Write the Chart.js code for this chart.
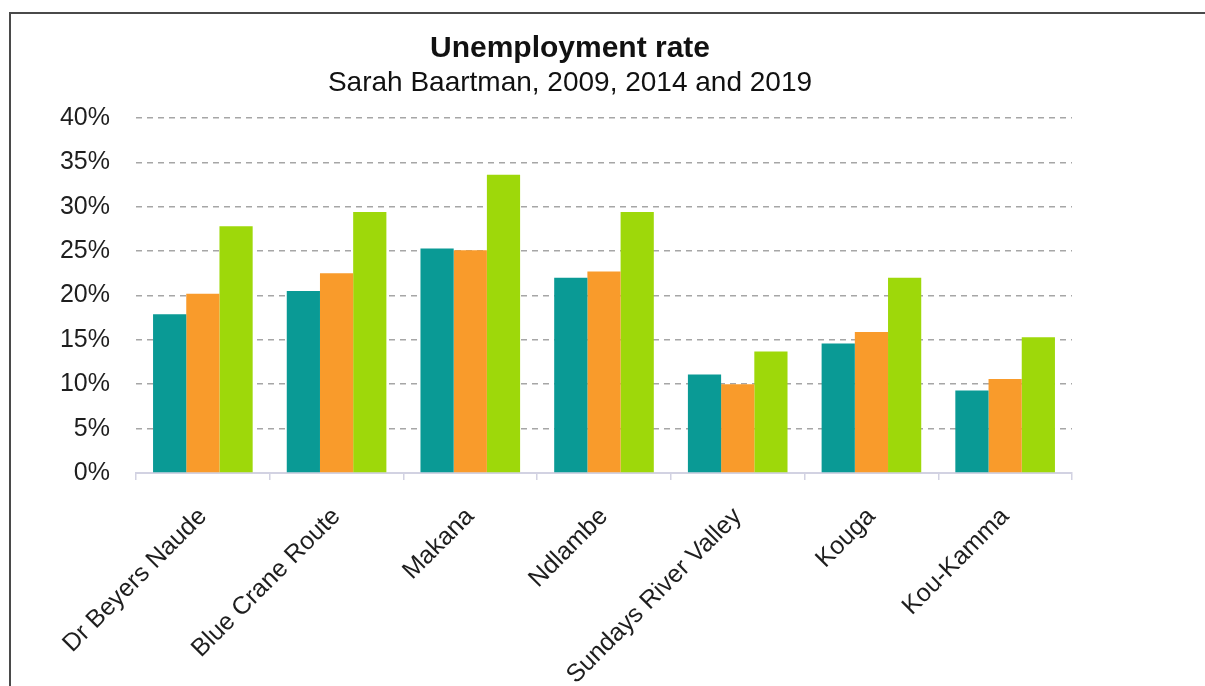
<!DOCTYPE html>
<html>
<head>
<meta charset="utf-8">
<title>Unemployment rate</title>
<script src="https://cdn.jsdelivr.net/npm/chart.js@4"></script>
<style>
  html, body { margin: 0; padding: 0; background: #fff; overflow: hidden; }
  .wrap  { position: absolute; left: 0; top: 0; width: 1205px; height: 686px; }
  .frame { position: absolute; left: 9px; top: 12px; right: 0; bottom: 0;
           border-top: 2px solid #4a4a4a; border-left: 2px solid #4a4a4a; pointer-events: none; }
</style>
</head>
<body>
<div class="wrap"><canvas id="chart"></canvas></div>
<div class="frame"></div>
<script>
// ── Municipalities and unemployment rate (%) per year
const municipalities = ['Dr Beyers Naude', 'Blue Crane Route', 'Makana', 'Ndlambe',
                        'Sundays River Valley', 'Kouga', 'Kou-Kamma'];
const rate2009 = [17.9, 20.5, 25.3, 22.0, 11.1, 14.6,  9.3];
const rate2014 = [20.2, 22.5, 25.1, 22.7, 10.0, 15.9, 10.6];
const rate2019 = [27.8, 29.4, 33.6, 29.4, 13.7, 22.0, 15.3];

const yMin = 0, yMax = 40, yStep = 5;

const titleText    = 'Unemployment rate';
const subtitleText = 'Sarah Baartman, 2009, 2014 and 2019';

const FONT = "'Liberation Sans', Arial, Helvetica, sans-serif";
const TEXT = '#1e1e1e';
const AXIS = '#d2d2e2';

// Heading sits a little left of the plot centre, so it is drawn by hand
const heading = {
  id: 'heading',
  afterDraw(chart) {
    const ctx = chart.ctx;
    ctx.save();
    ctx.textAlign = 'center';
    ctx.textBaseline = 'alphabetic';
    ctx.fillStyle = '#111';
    ctx.font = `bold 30px ${FONT}`;
    ctx.fillText(titleText, 570, 57);
    ctx.font = `28px ${FONT}`;
    ctx.fillText(subtitleText, 570, 91);
    ctx.restore();
  }
};

function series(label, data, color) {
  return { label, data, backgroundColor: color, borderWidth: 0,
           categoryPercentage: 0.745, barPercentage: 1.0 };
}

new Chart(document.getElementById('chart'), {
  type: 'bar',
  data: {
    labels: municipalities,
    datasets: [
      series('2009', rate2009, '#0a9a95'),
      series('2014', rate2014, '#f99b2b'),
      series('2019', rate2019, '#9ed80a')
    ]
  },
  plugins: [heading],
  options: {
    responsive: true,
    maintainAspectRatio: false,
    animation: false,
    layout: { padding: { left: 0, right: 133, top: 118, bottom: 0 } },
    plugins: {
      legend:  { display: false },
      tooltip: { enabled: false }
    },
    scales: {
      x: {
        offset: true,
        grid: { display: true, drawOnChartArea: false, drawTicks: true, tickLength: 7,
                color: AXIS, lineWidth: 1.5, offset: true },
        border: { display: true, color: AXIS, width: 2 },
        ticks: { autoSkip: false, minRotation: 45, maxRotation: 45, padding: 22,
                 color: TEXT, font: { family: FONT, size: 25 } },
        afterFit: s => { s.height = 213; }
      },
      y: {
        min: yMin, max: yMax,
        grid: { drawTicks: false, lineWidth: 1.6,
                color: c => c.tick && c.tick.value === 0 ? 'rgba(0,0,0,0)' : '#a6a6a6' },
        border: { display: false, dash: [6, 5] },
        ticks: { stepSize: yStep, padding: 26, color: TEXT,
                 font: { family: FONT, size: 25 }, callback: v => v + '%' },
        afterFit: s => { s.width = 136; }
      }
    }
  }
});
</script>
</body>
</html>
